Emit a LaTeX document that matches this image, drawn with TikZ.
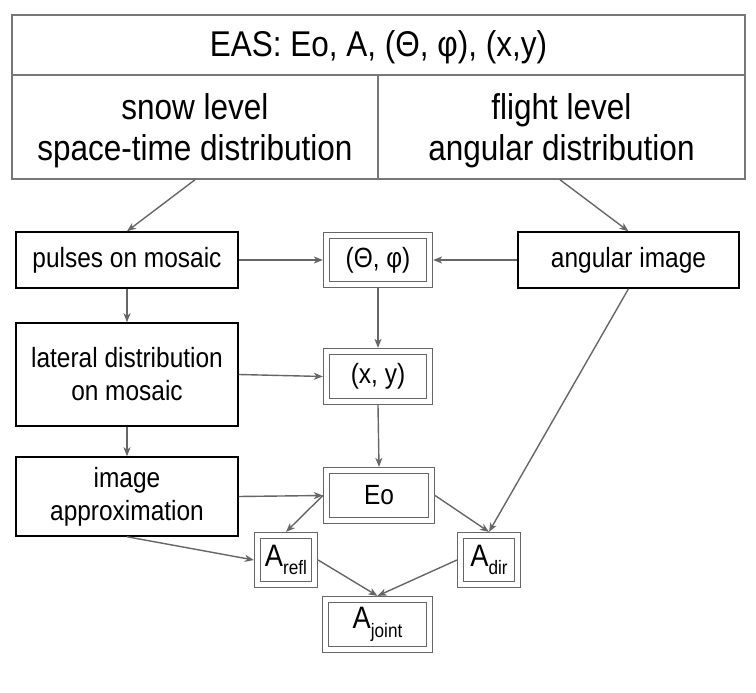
\documentclass[tikz,border=0pt]{standalone}
\usepackage{fontspec}
\setmainfont{Liberation Sans}
\newfontfamily\tallfont[FakeStretch=0.88]{Liberation Sans}
\usetikzlibrary{arrows.meta}
\definecolor{lg}{HTML}{666666}
\definecolor{bg}{HTML}{777777}
\tikzset{
  conn/.style={draw=lg, line width=1.4pt, -{Stealth[length=9pt,width=7pt,inset=2.5pt]}},
  topcell/.style={draw=bg, line width=1.5pt, inner sep=0pt, align=center, font=\tallfont\fontsize{35.8}{41}\selectfont},
  plainbox/.style={draw=black, line width=1.5pt, inner sep=0pt, align=center, font=\tallfont\fontsize{27.8}{33}\selectfont},
  dbox/.style={draw=lg, line width=1.5pt, double=white, double distance=4.2pt, inner sep=0pt, outer sep=3.6pt, align=center, font=\tallfont\fontsize{27.8}{30}\selectfont},
}
\newcommand{\Asub}[1]{\fontsize{31}{31}\selectfont A\raisebox{-0.28em}{\fontsize{19.5}{19.5}\selectfont #1}}
\newcommand{\lowstrut}{\rule{0pt}{33pt}}
\begin{document}
\begin{tikzpicture}[x=1pt,y=-1pt]
\useasboundingbox (0,0) rectangle (756,693);
% top box
\node[topcell, minimum width=733pt, minimum height=60pt] (title) at (378.5,45) {\rule{0pt}{30pt}EAS: Eo, A, (Θ, φ), (x,y)};
\node[topcell, minimum width=366pt, minimum height=104pt] (snow) at (195,127) {\lowstrut snow level\\space-time distribution};
\node[topcell, minimum width=367pt, minimum height=104pt] (flight) at (561.5,127) {\lowstrut flight level\\angular distribution};
% left column
\node[plainbox, minimum width=222pt, minimum height=56pt] (pulses) at (127,260) {pulses on mosaic};
\node[plainbox, minimum width=222pt, minimum height=103pt] (lateral) at (127,374.5) {lateral distribution\\on mosaic};
\node[plainbox, minimum width=222pt, minimum height=79pt] (imgapp) at (127,496.5) {image\\approximation};
% right
\node[plainbox, minimum width=221pt, minimum height=56pt] (angular) at (628.5,260) {angular image};
% double boxes
\node[dbox, minimum width=103pt, minimum height=49pt] (theta) at (378,260) {(Θ, φ)};
\node[dbox, minimum width=103pt, minimum height=50pt] (xy) at (378,376.5) {(x, y)};
\node[dbox, minimum width=105pt, minimum height=50pt] (Eo) at (379,495.5) {Eo};
\node[dbox, minimum width=57pt, minimum height=49pt] (Arefl) at (286,560) {\Asub{refl}};
\node[dbox, minimum width=57pt, minimum height=49pt] (Adir) at (489,560) {\Asub{dir}};
\node[dbox, minimum width=104pt, minimum height=50pt] (Ajoint) at (377.5,624.5) {\Asub{joint}};
% connectors
\draw[conn] (snow.south) -- (pulses.north);
\draw[conn] ([xshift=-1.5pt]flight.south) -- (angular.north);
\draw[conn] (pulses.east) -- (theta.west);
\draw[conn] (angular.west) -- (theta.east);
\draw[conn] (pulses.south) -- (lateral.north);
\draw[conn] (lateral.south) -- (imgapp.north);
\draw[conn] (theta.south) -- (xy.north);
\draw[conn] (lateral.east) -- (xy.west);
\draw[conn] (xy.south) -- (Eo.north);
\draw[conn] (imgapp.east) -- (Eo.west);
\draw[conn] (Eo.west) -- (Arefl.north);
\draw[conn] (Eo.east) -- (Adir.north);
\draw[conn] (angular.south) -- (Adir.north);
\draw[conn] (imgapp.south) -- (Arefl.west);
\draw[conn] (Arefl.east) -- (Ajoint.north);
\draw[conn] (Adir.west) -- (Ajoint.north);
\end{tikzpicture}
\end{document}
